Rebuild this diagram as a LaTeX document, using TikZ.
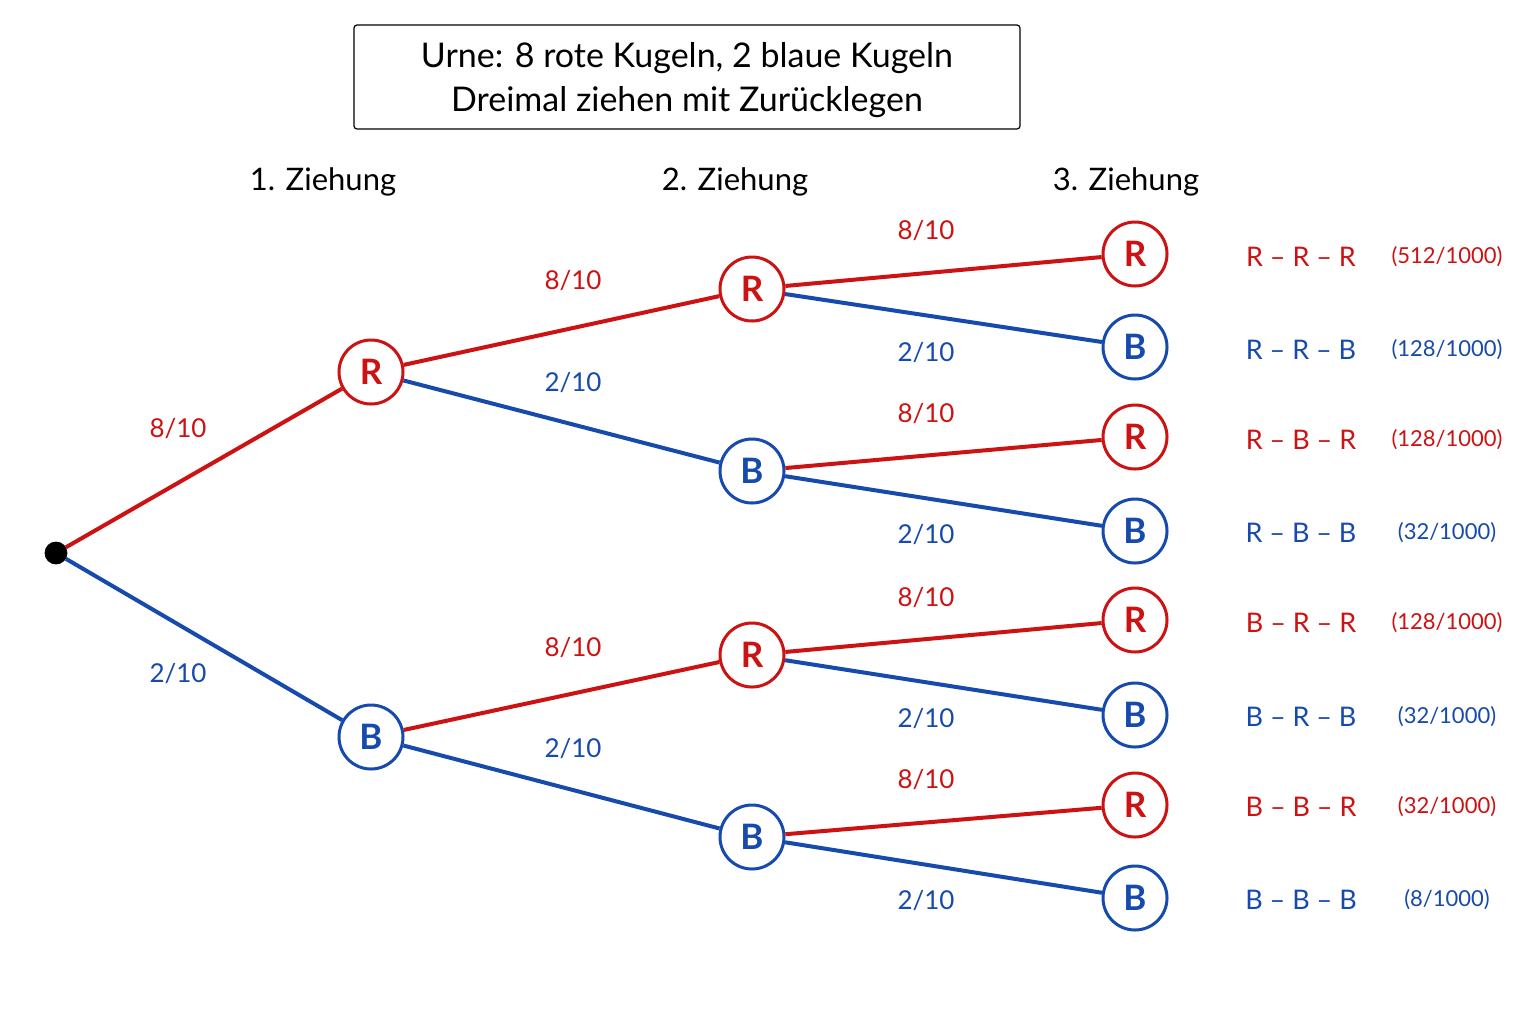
\documentclass[tikz,border=0pt]{standalone}
\usepackage{fontspec}
\setmainfont{Lato}
\usepackage{xcolor}
\usepackage{tikz}
\usetikzlibrary{positioning}
\definecolor{rot}{RGB}{204, 18, 18}
\definecolor{blau}{RGB}{22, 74, 172}
\tikzset{
    ballnode/.style = {draw, circle, line width=1.5pt, fill=white, minimum size=32pt, inner sep=0em,
      font=\fontsize{17.5}{20}\selectfont\bfseries},
    rnode/.style = {ballnode, draw=rot, text=rot},
    bnode/.style = {ballnode, draw=blau, text=blau},
    dotnode/.style = {draw, fill=black, circle, minimum size=11pt, inner sep=0em},
    textnode/.style = {draw=none, fill=none, inner sep=0em, font=\fontsize{13}{15}\selectfont},
    headnode/.style = {textnode, font=\fontsize{15.5}{18}\selectfont},
    pathnode/.style = {textnode, font=\fontsize{13.5}{15}\selectfont},
    probnode/.style = {textnode, font=\fontsize{11}{13}\selectfont},
    redge/.style = {rot, line width=2pt},
    bedge/.style = {blau, line width=2pt},
    every text node part/.style={align=center}
}
\newcommand{\strich}{\ \textendash\ }

\begin{document}
\begin{tikzpicture}[x=0.5pt, y=-0.5pt]
\useasboundingbox[fill=white] (0,0) rectangle (1536,1024);

% Titel
\node[draw, rounded corners=1.5pt, line width=0.6pt, minimum width=333pt, minimum height=52pt,
	text depth=0pt, font=\fontsize{17}{22}\selectfont, name=title] at (687,77)
	{Urne: 8 rote Kugeln, 2 blaue Kugeln\\Dreimal ziehen mit Zurücklegen};

% Ziehungen
\node[headnode, name=z1] at (323,182) {1. Ziehung};
\node[headnode, name=z2] at (735,182) {2. Ziehung};
\node[headnode, name=z3] at (1126,182) {3. Ziehung};

% Knoten
\node[dotnode, name=root] at (56,553) {};
\node[rnode, name=R] at (371,372) {R};
\node[bnode, name=B] at (371,737) {B};

\node[rnode, name=RR] at (752,289) {R};
\node[bnode, name=RB] at (752,471) {B};
\node[rnode, name=BR] at (752,655) {R};
\node[bnode, name=BB] at (752,837) {B};

\node[rnode, name=RRR] at (1135,254) {R};
\node[bnode, name=RRB] at (1135,347) {B};
\node[rnode, name=RBR] at (1135,437) {R};
\node[bnode, name=RBB] at (1135,531) {B};
\node[rnode, name=BRR] at (1135,620) {R};
\node[bnode, name=BRB] at (1135,715) {B};
\node[rnode, name=BBR] at (1135,805) {R};
\node[bnode, name=BBB] at (1135,898) {B};

% Kanten
\draw[redge] (root) -- (R);
\draw[bedge] (root) -- (B);
\draw[redge] (R) -- (RR);
\draw[bedge] (R) -- (RB);
\draw[redge] (B) -- (BR);
\draw[bedge] (B) -- (BB);
\draw[redge] (RR) -- (RRR);
\draw[bedge] (RR) -- (RRB);
\draw[redge] (RB) -- (RBR);
\draw[bedge] (RB) -- (RBB);
\draw[redge] (BR) -- (BRR);
\draw[bedge] (BR) -- (BRB);
\draw[redge] (BB) -- (BBR);
\draw[bedge] (BB) -- (BBB);

% Wahrscheinlichkeiten
\node[textnode, text=rot] at (178,428) {8/10};
\node[textnode, text=blau] at (178,673) {2/10};
\node[textnode, text=rot] at (573,281) {8/10};
\node[textnode, text=blau] at (573,382) {2/10};
\node[textnode, text=rot] at (573,647) {8/10};
\node[textnode, text=blau] at (573,748) {2/10};
\node[textnode, text=rot] at (926,231) {8/10};
\node[textnode, text=blau] at (926,352) {2/10};
\node[textnode, text=rot] at (926,413) {8/10};
\node[textnode, text=blau] at (926,534) {2/10};
\node[textnode, text=rot] at (926,597) {8/10};
\node[textnode, text=blau] at (926,718) {2/10};
\node[textnode, text=rot] at (926,779) {8/10};
\node[textnode, text=blau] at (926,900) {2/10};

% Ergebnisse
\node[pathnode, text=rot] at (1301,257) {R\strich R\strich R};
\node[pathnode, text=blau] at (1301,350) {R\strich R\strich B};
\node[pathnode, text=rot] at (1301,440) {R\strich B\strich R};
\node[pathnode, text=blau] at (1301,533) {R\strich B\strich B};
\node[pathnode, text=rot] at (1301,623) {B\strich R\strich R};
\node[pathnode, text=blau] at (1301,717) {B\strich R\strich B};
\node[pathnode, text=rot] at (1301,807) {B\strich B\strich R};
\node[pathnode, text=blau] at (1301,900) {B\strich B\strich B};

\node[probnode, text=rot] at (1447,257) {(512/1000)};
\node[probnode, text=blau] at (1447,350) {(128/1000)};
\node[probnode, text=rot] at (1447,440) {(128/1000)};
\node[probnode, text=blau] at (1447,533) {(32/1000)};
\node[probnode, text=rot] at (1447,623) {(128/1000)};
\node[probnode, text=blau] at (1447,717) {(32/1000)};
\node[probnode, text=rot] at (1447,807) {(32/1000)};
\node[probnode, text=blau] at (1447,900) {(8/1000)};
\end{tikzpicture}
\end{document}
